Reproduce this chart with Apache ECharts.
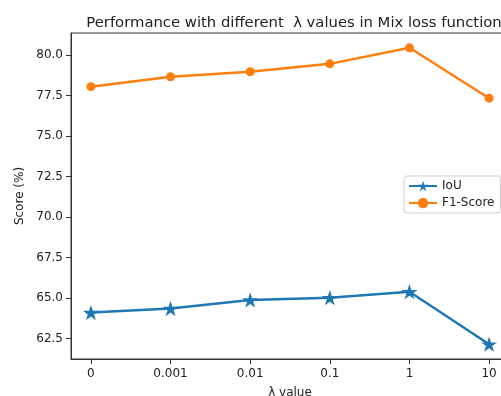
<!DOCTYPE html>
<html>
<head>
<meta charset="utf-8">
<script src="https://cdn.jsdelivr.net/npm/echarts@6/dist/echarts.min.js"></script>
<style>
  html, body { margin: 0; padding: 0; background: #fff; }
  #chart { width: 501px; height: 396px; }
</style>
</head>
<body>
<div id="chart"></div>
<script>
// lambda values on x axis
const lambdaLabels = ['0', '0.001', '0.01', '0.1', '1', '10'];
// scores
const iouScores = [64.10, 64.35, 64.88, 65.02, 65.39, 62.15];
const f1Scores = [78.05, 78.66, 78.97, 79.46, 80.45, 77.34];
const yTicks = [62.5, 65.0, 67.5, 70.0, 72.5, 75.0, 77.5, 80.0];

const starPath = 'path://M100 0 L122.45 69.1 L195.1 69.1 L136.3 111.8 L158.8 180.9 L100 138.2 L41.2 180.9 L63.7 111.8 L4.9 69.1 L77.55 69.1 Z';
const font = 'DejaVu Sans';

let chart = echarts.init(document.getElementById('chart'));
const xIdx = lambdaLabels.map((_, i) => i);

let option = {
    backgroundColor: '#fff',
    animation: false,
    title: {
        text: 'Performance with different  λ values in Mix loss function',
        left: 289,
        textAlign: 'center',
        top: 11,
        textStyle: { fontFamily: font, fontSize: 14.8, fontWeight: 'normal', color: '#222' }
    },
    legend: {
        data: ['IoU', 'F1-Score'],
        orient: 'vertical',
        left: 404,
        top: 176,
        padding: [4, 6, 4, 4],
        itemGap: 5,
        itemWidth: 28,
        itemHeight: 13,
        borderColor: '#d0d0d0',
        borderWidth: 1,
        borderRadius: 3,
        textStyle: { fontFamily: font, fontSize: 12, color: '#222' }
    },
    grid: {
        left: 71,
        top: 33,
        width: 438,
        height: 326,
        outerBoundsMode: 'none',
        containLabel: false,
        show: true,
        borderColor: '#333',
        borderWidth: 1
    },
    xAxis: {
        type: 'value',
        min: -0.25,
        max: 5.25,
        name: 'λ value',
        nameLocation: 'middle',
        nameGap: 28,
        nameTextStyle: { fontFamily: font, fontSize: 12, color: '#222' },
        splitLine: { show: false },
        axisLine: { onZero: false, lineStyle: { color: '#333' } },
        axisTick: { show: true, length: 5, inside: false, customValues: xIdx, lineStyle: { color: '#333' } },
        axisLabel: {
            customValues: xIdx,
            margin: 9,
            fontFamily: font, fontSize: 12, color: '#222',
            formatter: v => lambdaLabels[Math.round(v)]
        }
    },
    yAxis: {
        type: 'value',
        min: 61.235,
        max: 81.365,
        name: 'Score (%)',
        nameLocation: 'middle',
        nameGap: 42,
        nameTextStyle: { fontFamily: font, fontSize: 12, color: '#222' },
        splitLine: { show: false },
        axisLine: { show: true, onZero: false, lineStyle: { color: '#333' } },
        axisTick: { show: true, length: 5, customValues: yTicks, lineStyle: { color: '#333' } },
        axisLabel: {
            customValues: yTicks,
            margin: 8,
            fontFamily: font, fontSize: 12, color: '#222',
            formatter: v => v.toFixed(1)
        }
    },
    series: [
        {
            name: 'IoU',
            type: 'line',
            data: iouScores.map((v, i) => [i, v]),
            color: '#1f77b4',
            lineStyle: { width: 2.5 },
            symbol: starPath,
            symbolKeepAspect: true,
            symbolSize: 16,
            showAllSymbol: true
        },
        {
            name: 'F1-Score',
            type: 'line',
            data: f1Scores.map((v, i) => [i, v]),
            color: '#ff7f0e',
            lineStyle: { width: 2.5 },
            symbol: 'circle',
            symbolSize: 9,
            showAllSymbol: true
        }
    ]
};

chart.setOption(option);
</script>
</body>
</html>
